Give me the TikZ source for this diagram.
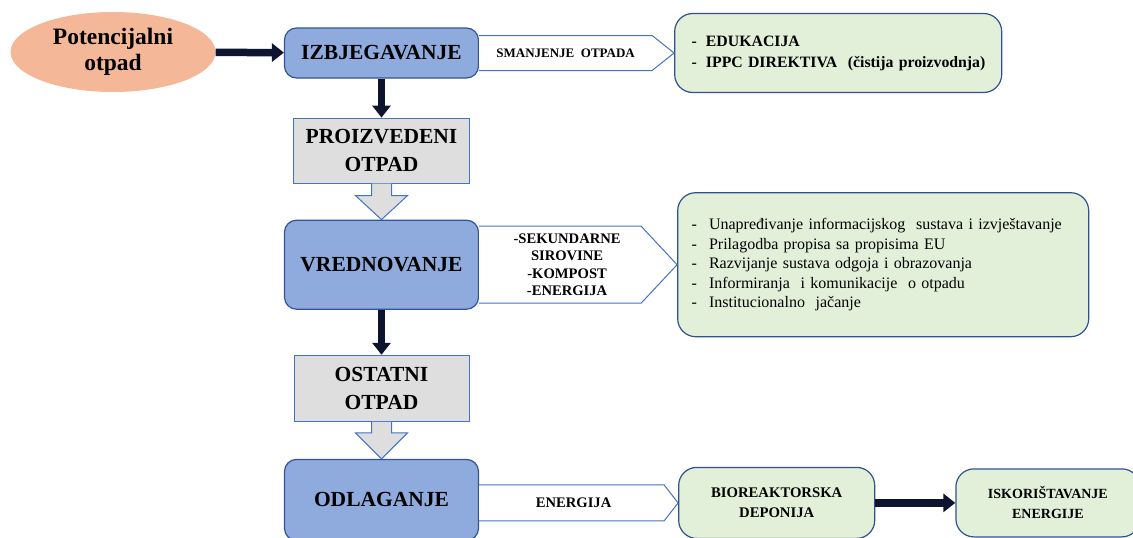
\documentclass[tikz,border=0pt]{standalone}
\usepackage{fontspec}
\setmainfont{Liberation Serif}
\usetikzlibrary{arrows.meta,shapes,positioning,calc}
\definecolor{potfill}{HTML}{F4B797}
\definecolor{stagefill}{HTML}{8FAADC}
\definecolor{stageline}{HTML}{2F5597}
\definecolor{wastefill}{HTML}{DEDEDE}
\definecolor{wasteline}{HTML}{4472C4}
\definecolor{measfill}{HTML}{E2F0D9}
\definecolor{measline}{HTML}{2F528F}
\definecolor{arrowc}{HTML}{0E1430}

\begin{document}
\begin{tikzpicture}[
  x=1pt, y=-1pt,
  font=\bfseries,
  potential/.style = {ellipse, fill=potfill, minimum width=205pt, minimum height=80pt,
                      align=center, inner sep=0pt, font=\bfseries\fontsize{23.5}{26}\selectfont},
  stage/.style = {rectangle, draw=stageline, line width=1.2pt, rounded corners=12pt,
                  fill=stagefill, minimum width=194pt, align=center,
                  font=\bfseries\fontsize{21.5}{26}\selectfont},
  waste/.style = {rectangle, draw=wasteline, line width=1pt, fill=wastefill,
                  minimum width=176pt, minimum height=65pt, align=center,
                  font=\bfseries\fontsize{21.5}{28}\selectfont},
  measures/.style = {rectangle, draw=measline, line width=1.2pt, rounded corners=18pt,
                     fill=measfill, align=left},
  outcome/.style = {draw=wasteline, line width=1pt, fill=white},
  outlbl/.style = {align=center, inner sep=0pt, font=\bfseries\fontsize{13}{17.5}\selectfont},
  prim/.style = {-{Triangle[length=12pt,width=18pt]}, line width=7.5pt, draw=arrowc},
  flowarr/.style = {draw=wasteline, line width=1pt, fill=wastefill}
]
\useasboundingbox (0,0) rectangle (1133,538);

% Left: potential waste
\node[potential] (pot) at (113,52) {Potencijalni\\otpad};

% Middle column: hierarchy of stages
\node[stage, minimum height=50pt] (izbj) at (381.5,53) {IZBJEGAVANJE};
\node[waste, below=39pt of izbj] (proiz) {PROIZVEDENI\\OTPAD};
\node[stage, minimum height=89pt, below=36pt of proiz] (vred) {VREDNOVANJE};
\node[waste, minimum width=175pt, minimum height=66pt, below=45pt of vred] (ost) {OSTATNI\\OTPAD};
\node[stage, minimum height=81pt, below=37pt of ost] (odl) {ODLAGANJE};

% Right: measures
\node[measures, right=195pt of izbj, text width=311pt, inner xsep=8pt, minimum height=79pt,
      font=\bfseries\fontsize{15.8}{21}\selectfont] (edu)
  {\hspace{9pt}-\hspace{9pt}EDUKACIJA\\
   \hspace{9pt}-\hspace{9pt}IPPC DIREKTIVA\ \ (čistija proizvodnja)};
\node[measures, right=198pt of vred, text width=383pt, inner xsep=14pt, minimum height=144pt,
      font=\mdseries\fontsize{16}{19.5}\selectfont] (mjere)
  {-\hspace{12pt}Unapređivanje informacijskog\ \ sustava i izvještavanje\\
   -\hspace{12pt}Prilagodba propisa sa propisima EU\\
   -\hspace{12pt}Razvijanje sustava odgoja i obrazovanja\\
   -\hspace{12pt}Informiranja\ \ i komunikacije\ \ o otpadu\\
   -\hspace{12pt}Institucionalno\ \ jačanje};
\node[measures, right=199pt of odl, yshift=-3pt, minimum width=196pt, minimum height=71pt,
      align=center, font=\bfseries\fontsize{14.7}{20}\selectfont] (bio) {BIOREAKTORSKA\\DEPONIJA};
\node[measures, right=80pt of bio, minimum width=184pt, minimum height=68pt,
      align=center, font=\bfseries\fontsize{14}{20}\selectfont] (isk) {ISKORIŠTAVANJE\\ENERGIJE};

% Outcomes between stages and measures
\draw[outcome] ($(izbj.east)+(0,-17.5)$) -- ($(edu.west)+(-22,-17.5)$) -- (edu.west)
  -- ($(edu.west)+(-22,17.5)$) -- ($(izbj.east)+(0,17.5)$);
\node[outlbl] (smanj) at ($(izbj.east)!0.5!(edu.west)+(-11,0)$) {SMANJENJE\ \ OTPADA};

\draw[outcome] ($(vred.east)+(0,-38.5)$) -- ($(mjere.west)+(-36,-38.5)$) -- (mjere.west)
  -- ($(mjere.west)+(-36,38.5)$) -- ($(vred.east)+(0,38.5)$);
\node[outlbl, font=\bfseries\fontsize{14.6}{17.5}\selectfont] (sirov)
  at ($(vred.east)!0.5!(mjere.west)+(-11,0)$) {-SEKUNDARNE\\SIROVINE\\-KOMPOST\\-ENERGIJA};

\draw[outcome] ($(odl.east |- bio.west)+(0,-18)$) -- ($(bio.west)+(-14,-18)$) -- (bio.west)
  -- ($(bio.west)+(-14,18)$) -- ($(odl.east |- bio.west)+(0,18)$);
\node[outlbl, font=\bfseries\fontsize{14.6}{17.5}\selectfont] (energ)
  at ($(odl.east |- bio.west)!0.5!(bio.west)+(-5,0)$) {ENERGIJA};

% Main flow
\draw[prim] (pot) -- (izbj);
\draw[prim] (izbj) -- (proiz);
\draw[prim] (vred) -- (ost);
\draw[prim] (bio) -- (isk);

% Block arrows from waste boxes
\draw[flowarr] ($(proiz.south)+(-10,0)$) -- ($(vred.north)+(-10,-24)$) -- ($(vred.north)+(-26,-24)$)
  -- (vred.north) -- ($(vred.north)+(26,-24)$) -- ($(vred.north)+(10,-24)$) -- ($(proiz.south)+(10,0)$);
\draw[flowarr] ($(ost.south)+(-10,0)$) -- ($(odl.north)+(-10,-26)$) -- ($(odl.north)+(-26,-26)$)
  -- (odl.north) -- ($(odl.north)+(26,-26)$) -- ($(odl.north)+(10,-26)$) -- ($(ost.south)+(10,0)$);

\end{tikzpicture}
\end{document}
